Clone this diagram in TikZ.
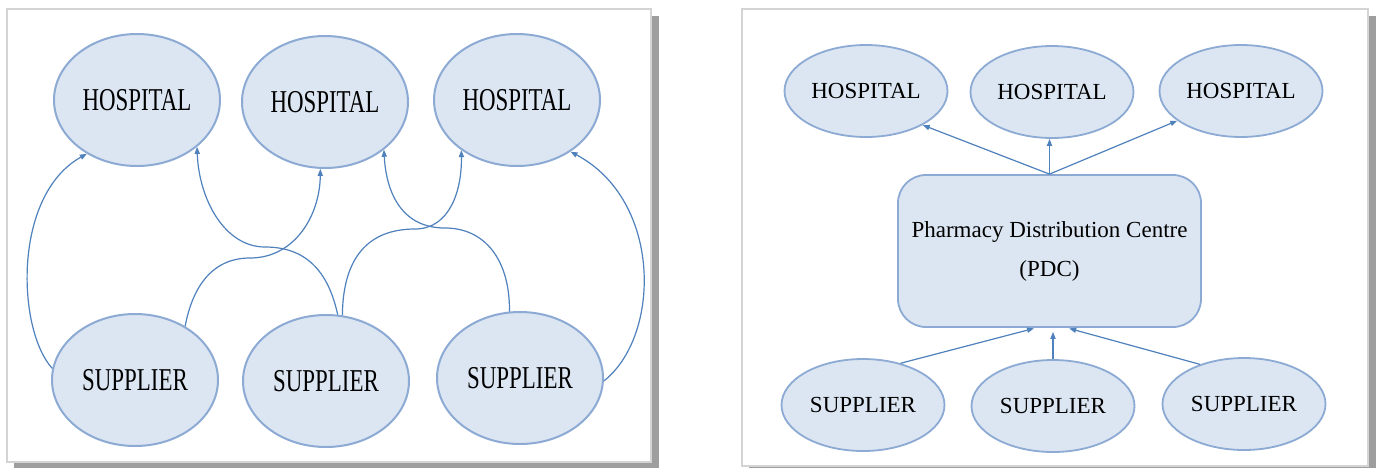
\documentclass[tikz,border=0pt]{standalone}
\usepackage{fontspec}
\usepackage{graphicx}
\setmainfont{Liberation Serif}
\usetikzlibrary{arrows.meta,shapes.geometric}

\definecolor{nodefill}{RGB}{220,230,242}
\definecolor{nodeline}{RGB}{140,170,212}
\definecolor{linkblue}{RGB}{79,129,189}
\definecolor{framegray}{RGB}{212,212,212}
\definecolor{shadowgray}{RGB}{158,158,158}

\tikzset{
  bigell/.style={ellipse, draw=nodeline, fill=nodefill, line width=1pt,
    minimum width=83pt, minimum height=66pt, inner sep=0pt,
    font=\fontsize{15.9}{18}\selectfont},
  smallell/.style={ellipse, draw=nodeline, fill=nodefill, line width=0.9pt,
    minimum width=81.5pt, minimum height=46pt, inner sep=0pt,
    font=\fontsize{11.5}{14}\selectfont},
  centrebox/.style={rectangle, rounded corners=14pt, draw=nodeline, fill=nodefill,
    line width=0.9pt, minimum width=151.5pt, minimum height=76pt, align=center,
    font=\fontsize{11.5}{19.5}\selectfont},
  flow/.style={draw=linkblue, line width=0.6pt, -{Triangle[length=3.5pt,width=2.6pt]}},
  panel/.style={draw=framegray, line width=0.8pt, fill=white},
  panelshadow/.style={fill=shadowgray},
}
\newcommand{\narrow}[1]{\scalebox{0.72}[1]{#1}}

\begin{document}
\begin{tikzpicture}[x=0.5pt,y=-0.5pt]
  \useasboundingbox (0,0) rectangle (1376,467);
  \fill[white] (0,0) rectangle (1376,467);

  % two framed panels with drop shadows
  \fill[panelshadow] (14,16) rectangle (659,468);
  \draw[panel] (7,9) rectangle (651,462);
  \fill[panelshadow] (749,16) rectangle (1376,474);
  \draw[panel] (742,9) rectangle (1368,466);

  % ---- direct supply network ----
  \node[bigell] (h1) at (137,100) {\narrow{HOSPITAL}};
  \node[bigell] (h2) at (325,102) {\narrow{HOSPITAL}};
  \node[bigell] (h3) at (517,100) {\narrow{HOSPITAL}};
  \node[bigell] (s1) at (135,380) {\narrow{SUPPLIER}};
  \node[bigell] (s2) at (326,381) {\narrow{SUPPLIER}};
  \node[bigell] (s3) at (520,378) {\narrow{SUPPLIER}};

  \draw[flow] (s1.172) .. controls +(-35,-38) and +(-75,42) .. (h1.227);
  \draw[flow] (s1.47) .. controls (192,290) and (210,258) .. (250,258)
                      .. controls (295,258) and (320,215) .. (h2.266);
  \draw[flow] (s2.80) .. controls (328,270) and (305,247) .. (265,247)
                      .. controls (225,247) and (199,200) .. (h1.322);
  \draw[flow] (s2.76) .. controls (343,250) and (375,229) .. (415,229)
                      .. controls (450,229) and (462,190) .. (h3.222);
  \draw[flow] (s3.99) .. controls (510,260) and (485,228) .. (445,228)
                      .. controls (400,228) and (386,190) .. (h2.321);
  \draw[flow] (s3.358) .. controls +(57,-45) and +(92,49) .. (h3.316);

  % ---- centralised network through the PDC ----
  \node[smallell] (rh1) at (866,91) {HOSPITAL};
  \node[smallell] (rh2) at (1052,92) {HOSPITAL};
  \node[smallell] (rh3) at (1241,91) {HOSPITAL};
  \node[centrebox] (pdc) at (1049.5,251) {Pharmacy Distribution Centre\\(PDC)};
  \node[smallell] (rs1) at (863,405) {SUPPLIER};
  \node[smallell] (rs2) at (1053,406) {SUPPLIER};
  \node[smallell] (rs3) at (1244,404) {SUPPLIER};

  \draw[flow] (pdc.north) -- (rh1.329);
  \draw[flow] (pdc.north) -- (pdc.north |- rh2.south);
  \draw[flow] (pdc.north) -- (rh3.205);
  \draw[flow, shorten >=1pt] (rs1.48) -- (pdc.260);
  \draw[flow, shorten >=2pt] (rs2.north) -- (rs2.north |- pdc.south);
  \draw[flow, shorten >=1pt] (rs3.138) -- (pdc.283);
\end{tikzpicture}
\end{document}
